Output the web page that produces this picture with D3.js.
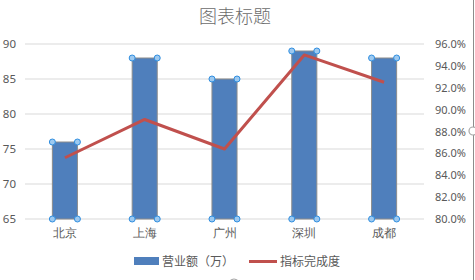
<!DOCTYPE html>
<html><head><meta charset="utf-8">
<script src="https://cdn.jsdelivr.net/npm/d3@7/dist/d3.min.js"></script>
<style>body{margin:0;background:#fff;}svg{display:block;font-family:"Noto Sans CJK SC","Noto Sans",sans-serif;}</style>
</head><body>
<svg id="c" width="475" height="280"></svg>
<script>
const categories = ["北京","上海","广州","深圳","成都"];
const revenue = [76, 88, 85, 89, 88];
const completion = [0.856, 0.891, 0.864, 0.950, 0.925];
const leftTicks = [65,70,75,80,85,90];
const rightTicks = [0.80,0.82,0.84,0.86,0.88,0.90,0.92,0.94,0.96];
const seriesNames = ["营业额（万）","指标完成度"];
const title = "图表标题";

const svg = d3.select("#c");
const L = 25, R = 424, T = 44, B = 219;
const x = d3.scaleBand().domain(categories).range([L, R]).paddingInner(0.686).paddingOuter(0.343);
const y = d3.scaleLinear().domain([65, 90]).range([B, T]);
const y2 = d3.scaleLinear().domain([0.80, 0.96]).range([B, T]);
const txt = "#595959";

// title
svg.append("text").attr("x", 235).attr("y", 23).attr("text-anchor","middle")
  .attr("font-size", 18).attr("font-weight", 300).attr("fill", "#6b6b6b").text(title);

// gridlines
svg.append("g").selectAll("line").data(leftTicks).join("line")
  .attr("x1", L).attr("x2", R).attr("y1", d=>y(d)).attr("y2", d=>y(d))
  .attr("stroke", "#d9d9d9").attr("stroke-width", 1);

// left axis
const ga = svg.append("g").attr("transform", `translate(${L-9},0)`)
  .call(d3.axisLeft(y).tickValues(leftTicks).tickSize(0).tickPadding(0));
ga.select(".domain").remove();
ga.selectAll("text").attr("font-size", 11.5).attr("fill", txt).attr("font-family","Noto Sans, sans-serif");

// right axis
const gr = svg.append("g").attr("transform", `translate(${R+11},0)`)
  .call(d3.axisRight(y2).tickValues(rightTicks).tickSize(0).tickPadding(0).tickFormat(d3.format(".1%")));
gr.select(".domain").remove();
gr.selectAll("text").attr("font-size", 11).attr("fill", txt).attr("font-family","Noto Sans, sans-serif");

// x axis labels
const gx = svg.append("g").attr("transform", `translate(0,${B+9})`)
  .call(d3.axisBottom(x).tickSize(0).tickPadding(0));
gx.select(".domain").remove();
gx.selectAll("text").attr("font-size", 12).attr("fill", txt).attr("dy","0.71em");

// bars
svg.append("g").selectAll("rect").data(categories).join("rect")
  .attr("x", d=>x(d)).attr("width", x.bandwidth())
  .attr("y", (d,i)=>y(revenue[i])).attr("height", (d,i)=>B - y(revenue[i]))
  .attr("fill", "#4f7fbc").attr("stroke", "#8c8c8c").attr("stroke-width", 1);

// line
const line = d3.line().x((d,i)=>x(categories[i]) + x.bandwidth()/2).y(d=>y2(d));
svg.append("path").datum(completion).attr("d", line)
  .attr("fill","none").attr("stroke","#c0504d").attr("stroke-width", 3).attr("stroke-linejoin","round");

// selection handles on bars
const handles = [];
categories.forEach((c,i)=>{
  [x(c), x(c)+x.bandwidth()].forEach(hx=>{
    handles.push([hx, y(revenue[i])]);
    handles.push([hx, B]);
  });
});
svg.append("g").selectAll("circle").data(handles).join("circle")
  .attr("cx", d=>d[0]).attr("cy", d=>d[1]).attr("r", 3)
  .attr("fill", "#9dc9f0").attr("stroke", "#2f8ee0").attr("stroke-width", 1);

// legend
const lg = svg.append("g");
lg.append("rect").attr("x",134).attr("y",257).attr("width",25).attr("height",8).attr("fill","#4f7fbc");
lg.append("text").attr("x",162).attr("y",266).attr("font-size",12).attr("fill",txt).text(seriesNames[0]);
lg.append("line").attr("x1",249).attr("x2",277).attr("y1",261.5).attr("y2",261.5).attr("stroke","#c0504d").attr("stroke-width",3);
lg.append("text").attr("x",280).attr("y",266).attr("font-size",12).attr("fill",txt).text(seriesNames[1]);

// chart frame edge and handles
svg.append("line").attr("x1",473.5).attr("x2",473.5).attr("y1",0).attr("y2",280).attr("stroke","#8c8c8c").attr("stroke-width",1);
svg.append("circle").attr("cx",473).attr("cy",131).attr("r",4).attr("fill","#fff").attr("stroke","#a6a6a6").attr("stroke-width",1.2);
svg.append("circle").attr("cx",234).attr("cy",284).attr("r",5).attr("fill","#fff").attr("stroke","#a6a6a6").attr("stroke-width",1.2);
</script>
</body></html>
